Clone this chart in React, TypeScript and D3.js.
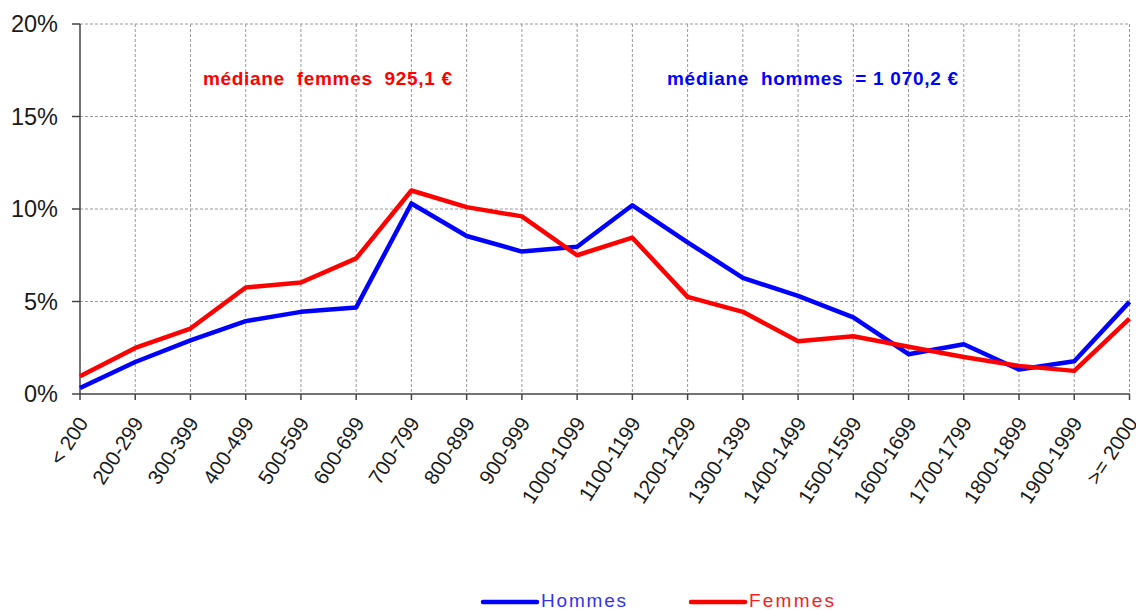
import React from "react";
import * as d3 from "d3";

const categories = [
  "< 200", "200-299", "300-399", "400-499", "500-599", "600-699", "700-799",
  "800-899", "900-999", "1000-1099", "1100-1199", "1200-1299", "1300-1399",
  "1400-1499", "1500-1599", "1600-1699", "1700-1799", "1800-1899",
  "1900-1999", ">= 2000",
];

// share of employees per wage band, in %
const hommes = [
  0.32, 1.73, 2.9, 3.94, 4.44, 4.68, 10.3, 8.54, 7.7, 7.96,
  10.2, 8.2, 6.28, 5.3, 4.14, 2.15, 2.69, 1.32, 1.77, 4.98,
];
const femmes = [
  0.96, 2.49, 3.54, 5.76, 6.03, 7.33, 11.0, 10.1, 9.6, 7.5,
  8.45, 5.25, 4.44, 2.85, 3.12, 2.55, 2.0, 1.52, 1.25, 4.08,
];

const yTicks = [0, 5, 10, 15, 20];

const series = [
  { name: "Hommes", values: hommes, color: "#0000ff", text: "#3333ee" },
  { name: "Femmes", values: femmes, color: "#ff0000", text: "#f22222" },
];

const W = 1136;
const H = 610;
const font = "'Liberation Sans', Arial, sans-serif";

export default function App() {
  const x = d3.scalePoint<string>().domain(categories).range([80, 1129.5]);
  const y = d3.scaleLinear().domain([0, 20]).range([394, 24]);

  const line = d3
    .line<number>()
    .x((_, i) => x(categories[i])!)
    .y((d) => y(d));

  return (
    <svg
      width={W}
      height={H}
      style={{ position: "absolute", left: 0, top: 0, background: "#fff" }}
      fontFamily={font}
    >
      {/* grid */}
      {yTicks.filter((t) => t > 0).map((t) => (
        <line key={"gy" + t} x1={80} x2={1129.5} y1={y(t)} y2={y(t)}
          stroke="#9a9a9a" strokeWidth={1} strokeDasharray="3,2" />
      ))}
      {categories.slice(1).map((c) => (
        <line key={"gx" + c} x1={x(c)} x2={x(c)} y1={24} y2={394}
          stroke="#9a9a9a" strokeWidth={1} strokeDasharray="3,2" />
      ))}

      {/* axes */}
      <line x1={80} x2={80} y1={24} y2={394} stroke="#444" strokeWidth={1.5} />
      <line x1={80} x2={1130} y1={394} y2={394} stroke="#444" strokeWidth={1.5} />
      {yTicks.map((t) => (
        <g key={"yt" + t}>
          <line x1={72} x2={80} y1={y(t)} y2={y(t)} stroke="#444" strokeWidth={1.5} />
          <text x={58} y={y(t)} dy="0.36em" textAnchor="end" fontSize={23.5} fill="#1a1a1a">
            {t}%
          </text>
        </g>
      ))}
      {categories.map((c) => (
        <g key={"xt" + c}>
          <line x1={x(c)} x2={x(c)} y1={394} y2={400} stroke="#444" strokeWidth={1.5} />
          <text
            transform={`translate(${x(c)! + 3},${419}) rotate(-57)`}
            dy="0.35em"
            textAnchor="end"
            fontSize={20.5}
            fill="#1a1a1a"
          >
            {c}
          </text>
        </g>
      ))}

      {/* series */}
      {series.map((s) => (
        <path key={s.name} d={line(s.values)!} fill="none" stroke={s.color}
          strokeWidth={4.5} strokeLinejoin="round" />
      ))}

      {/* annotations */}
      <text x={203} y={85} fontSize={19} fontWeight="bold" fill="#ff0000"
        textLength={249} lengthAdjust="spacing" style={{ whiteSpace: "pre" }}>
        {"médiane  femmes  925,1 €"}
      </text>
      <text x={667} y={85} fontSize={19} fontWeight="bold" fill="#0000ff"
        textLength={291} lengthAdjust="spacing" style={{ whiteSpace: "pre" }}>
        {"médiane  hommes  = 1 070,2 €"}
      </text>

      {/* legend */}
      {series.map((s, i) => {
        const lx = i === 0 ? 483 : 691;
        return (
          <g key={"lg" + s.name}>
            <line x1={lx} x2={lx + 54} y1={602} y2={602} stroke={s.color}
              strokeWidth={4.5} strokeLinecap="round" />
            <text x={lx + 58} y={607} fontSize={19} fill={s.text}
              textLength={85} lengthAdjust="spacing">
              {s.name}
            </text>
          </g>
        );
      })}
    </svg>
  );
}
